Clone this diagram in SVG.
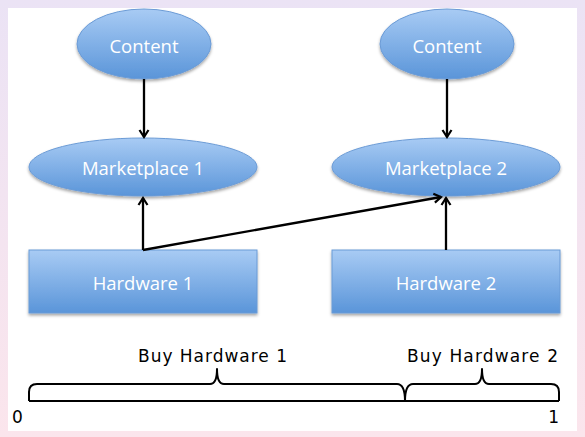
<svg xmlns="http://www.w3.org/2000/svg" width="585" height="437" viewBox="0 0 585 437">
<defs>
<linearGradient id="bg" x1="0" y1="0" x2="0" y2="1">
<stop offset="0" stop-color="#ebe3f5"/>
<stop offset="1" stop-color="#fbe5ec"/>
</linearGradient>
<linearGradient id="blue" x1="0" y1="0" x2="0" y2="1">
<stop offset="0" stop-color="#a8cbf4"/>
<stop offset="1" stop-color="#5a95d9"/>
</linearGradient>
<filter id="sh" x="-20%" y="-20%" width="140%" height="150%">
<feDropShadow dx="0" dy="2" stdDeviation="1.5" flood-color="#000" flood-opacity="0.35"/>
</filter>
<marker id="arr" markerWidth="12" markerHeight="12" refX="9" refY="6" orient="auto" markerUnits="userSpaceOnUse">
<path d="M2,1.5 L9,6 L2,10.5" fill="none" stroke="#000" stroke-width="2.2"/>
</marker>
</defs>
<style>
.node{fill:url(#blue);stroke:#6b9bd6;stroke-width:1;filter:url(#sh)}
.lbl{font-family:"Open Sans","DejaVu Sans",sans-serif;font-size:18.5px;font-weight:500;fill:#fff;text-anchor:middle}
.conn{stroke:#000;stroke-width:2.3;fill:none}
.brace{stroke:#000;stroke-width:2;fill:none;stroke-linejoin:round}
.cap{font-family:"DejaVu Sans","Liberation Sans",sans-serif;font-size:17px;fill:#000}
</style>
<rect x="0" y="0" width="585" height="437" fill="url(#bg)"/>
<rect x="8" y="8" width="569" height="423" fill="#fff"/>

<g id="content1"><ellipse class="node" cx="144" cy="44" rx="67" ry="35"/><text class="lbl" x="144" y="53">Content</text></g>
<g id="content2"><ellipse class="node" cx="447" cy="44" rx="67" ry="35"/><text class="lbl" x="447" y="53">Content</text></g>
<g id="marketplace1"><ellipse class="node" cx="143" cy="167" rx="114" ry="29"/><text class="lbl" x="143" y="175">Marketplace 1</text></g>
<g id="marketplace2"><ellipse class="node" cx="446" cy="167" rx="114" ry="29"/><text class="lbl" x="446" y="175">Marketplace 2</text></g>
<g id="hardware1"><rect class="node" x="29" y="250" width="228" height="63"/><text class="lbl" x="143" y="290">Hardware 1</text></g>
<g id="hardware2"><rect class="node" x="332" y="250" width="228" height="63"/><text class="lbl" x="446" y="290">Hardware 2</text></g>

<g id="connectors">
<line class="conn" x1="144" y1="79" x2="144" y2="137" marker-end="url(#arr)"/>
<line class="conn" x1="447" y1="79" x2="447" y2="137" marker-end="url(#arr)"/>
<line class="conn" x1="143" y1="250" x2="143" y2="198" marker-end="url(#arr)"/>
<line class="conn" x1="143" y1="250" x2="441" y2="197" marker-end="url(#arr)"/>
<line class="conn" x1="446" y1="250" x2="446" y2="198" marker-end="url(#arr)"/>
</g>

<g id="timeline">
<path class="brace" d="M29,401 L29,392 Q29,384 37,384 L210,384 Q217,384 217,369 Q217,384 224,384 L397,384 Q405,384 405,401"/>
<path class="brace" d="M405,401 Q405,384 413,384 L475,384 Q482,384 482,369 Q482,384 489,384 L551,384 Q559,384 559,392 L559,401"/>
<line class="brace" x1="29" y1="401" x2="559" y2="401"/>
<text class="cap" x="138" y="362" textLength="149" lengthAdjust="spacing">Buy Hardware 1</text>
<text class="cap" x="407" y="362" textLength="151" lengthAdjust="spacing">Buy Hardware 2</text>
<text class="cap" x="12" y="423">0</text>
<text class="cap" x="559" y="423" text-anchor="end">1</text>
</g>
</svg>
